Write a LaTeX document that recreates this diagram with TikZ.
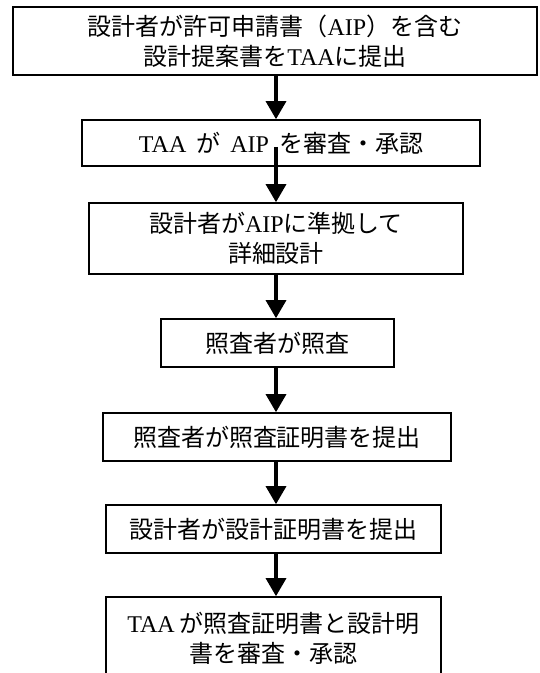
\documentclass[tikz,border=0pt]{standalone}
\usepackage{fontspec}
\setmainfont{Noto Sans CJK JP}
\newfontfamily\lat{Liberation Serif}
\usetikzlibrary{arrows.meta}
\newcommand{\lt}[1]{{\lat #1}}
\begin{document}
\begin{tikzpicture}[x=1pt,y=-1pt,
  box/.style={draw, line width=1.6pt, rectangle, inner sep=0pt, align=center,
    font=\fontsize{24pt}{30pt}\selectfont},
  arr/.style={line width=3.2pt, -{Triangle[width=20pt,length=18pt]}}]
\useasboundingbox (0,0) rectangle (539,673);
\clip (0,0) rectangle (539,673);
\fill[white] (0,0) rectangle (539,673);
\coordinate (ax) at (276,0);
\node[box, minimum width=524pt, minimum height=68pt] (b1) at (275,41)
  {設計者が許可申請書（\lt{AIP}）を含む\\設計提案書を\lt{TAA}に提出};
\node[box, minimum width=398pt, minimum height=46pt] (b2) at (281,143)
  {\lt{TAA}\hspace{10pt}が\hspace{10pt}\lt{AIP}\hspace{10pt}を審査・承認};
\node[box, minimum width=374pt, minimum height=71pt] (b3) at (276,238.5)
  {設計者が\lt{AIP}に準拠して\\詳細設計};
\node[box, minimum width=233pt, minimum height=48pt] (b4) at (277.5,343)
  {照査者が照査};
\node[box, minimum width=348pt, minimum height=48pt] (b5) at (277,437)
  {照査者が照査証明書を提出};
\node[box, minimum width=335pt, minimum height=48pt] (b6) at (273.5,529)
  {設計者が設計証明書を提出};
\node[box, minimum width=335pt, minimum height=83pt] (b7) at (273.5,638.5)
  {\lt{TAA}\hspace{5pt}が照査証明書と設計明\\書を審査・承認};
\draw[arr] (b1.south -| ax) -- (b2.north -| ax);
\draw[arr] ([yshift=20pt]b2.south -| ax) -- (b3.north -| ax);
\draw[arr] (b3.south -| ax) -- (b4.north -| ax);
\draw[arr] (b4.south -| ax) -- (b5.north -| ax);
\draw[arr] (b5.south -| ax) -- (b6.north -| ax);
\draw[arr] (b6.south -| ax) -- (b7.north -| ax);
\end{tikzpicture}
\end{document}
